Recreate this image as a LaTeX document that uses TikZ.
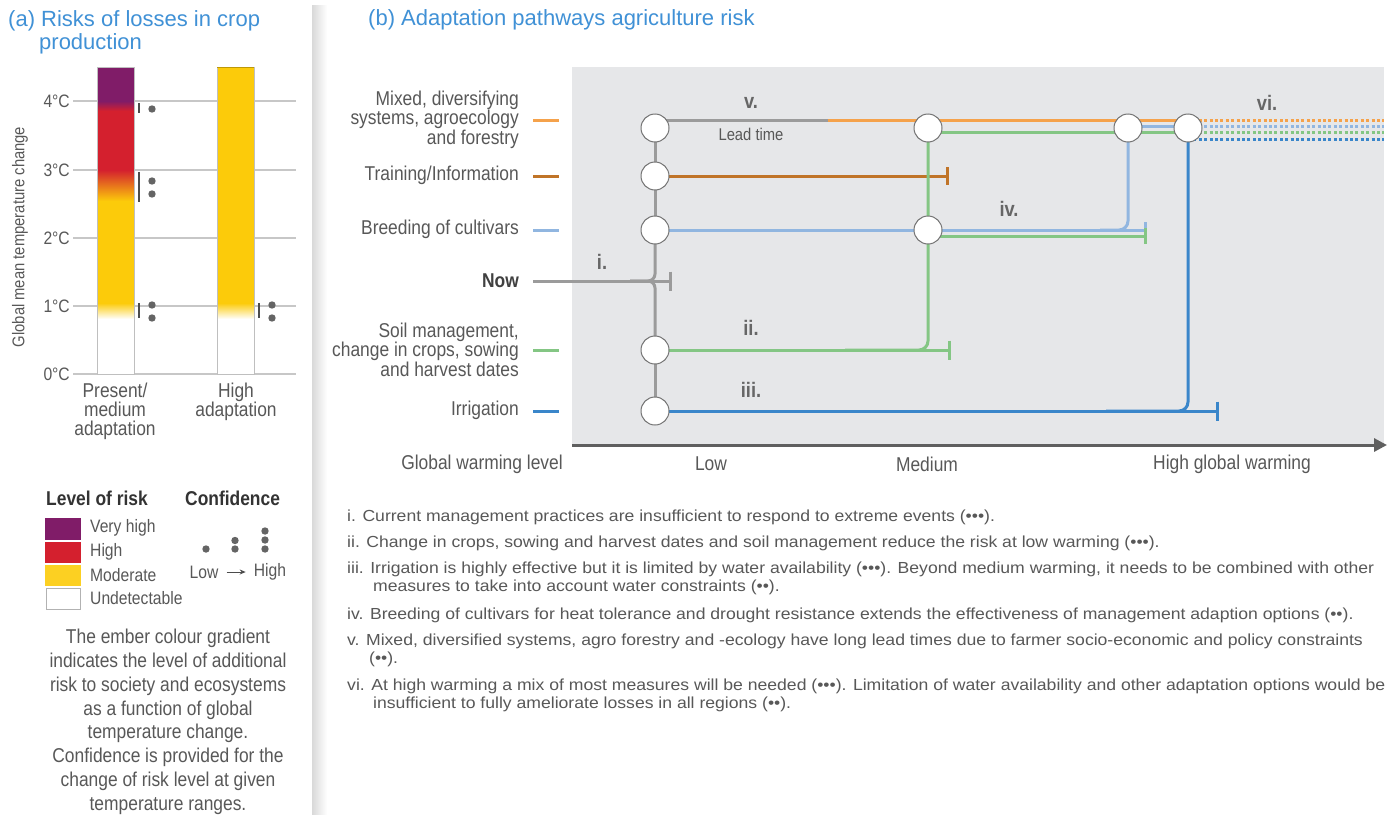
\documentclass[tikz,border=0pt]{standalone}
\usepackage{fontspec}
\setmainfont{Liberation Sans}
\newfontfamily\nrw[FakeStretch=0.87]{Liberation Sans}
\newfontfamily\notefont[FakeStretch=1.1]{Liberation Sans}
\usepackage{tikz}
\usetikzlibrary{arrows.meta, positioning, calc}
\definecolor{ttlblue}{RGB}{64,145,214}
\definecolor{txtgray}{RGB}{88,88,88}
\definecolor{panelgray}{RGB}{230,231,233}
\definecolor{spinegray}{RGB}{155,155,155}
\definecolor{axgray}{RGB}{95,95,95}
\definecolor{cOrange}{RGB}{245,162,75}
\definecolor{cBrown}{RGB}{192,116,40}
\definecolor{cLblue}{RGB}{145,182,224}
\definecolor{cGreen}{RGB}{132,198,132}
\definecolor{cBlue}{RGB}{58,134,202}
\definecolor{emPurple}{RGB}{128,28,104}
\definecolor{emRed}{RGB}{212,32,46}
\definecolor{emOrange}{RGB}{240,120,30}
\definecolor{emYellow}{RGB}{252,203,10}
\definecolor{dotgray}{RGB}{100,100,100}
\tikzstyle{ttl} = [anchor=west, text=ttlblue, font=\fontsize{22}{24}\selectfont]
\tikzstyle{rowlab} = [anchor=east, align=right, text=txtgray, font=\nrw\fontsize{20}{18.3}\selectfont]
\tikzstyle{templab} = [anchor=east, text=txtgray, font=\nrw\fontsize{18}{18}\selectfont]
\tikzstyle{barlab} = [align=center, text=txtgray, font=\nrw\fontsize{20}{19}\selectfont]
\tikzstyle{leghead} = [anchor=west, text=black!80, font=\nrw\bfseries\fontsize{20}{20}\selectfont]
\tikzstyle{legitem} = [anchor=west, text=txtgray, font=\nrw\fontsize{18}{18}\selectfont]
\tikzstyle{legtext} = [anchor=north, align=center, text=txtgray, font=\nrw\fontsize{20}{23.8}\selectfont]
\tikzstyle{axlab} = [text=txtgray, font=\nrw\fontsize{20}{20}\selectfont]
\tikzstyle{vlab} = [text=black!60, font=\nrw\bfseries\fontsize{21}{21}\selectfont]
\tikzstyle{notetxt} = [anchor=north west, align=left, text=txtgray, font=\notefont\fontsize{16}{18}\selectfont]
\tikzstyle{opt} = [circle, draw=black!55, fill=white, line width=1pt, minimum size=28pt, inner sep=0pt]
\tikzstyle{lnk} = [line width=3pt]
\tikzstyle{fut} = [line width=3pt, dash pattern=on 3pt off 2.4pt]
\tikzstyle{stopper} = [-{Bar[width=19pt]}]
\tikzstyle{gridln} = [black!22, line width=1.5pt]
\tikzstyle{barln} = [black!25, line width=1pt]
\tikzstyle{conftick} = [black!70, line width=2pt]
\tikzstyle{axln} = [axgray, line width=3pt, -{Triangle[length=13pt, width=13pt]}]

\begin{document}
\begin{tikzpicture}[x=1pt, y=-1pt, every node/.style={inner sep=0pt}]
  \useasboundingbox (0,0) rectangle (1389,814);
  \fill[white] (0,0) rectangle (1389,814);
  % ---------- panel separator ----------
  \shade[left color=black!15, right color=white] (312,5) rectangle (327,814);

  % ---------- (a) ember diagram ----------
  \node[ttl] (ttla)  at (8,21)  {(a) Risks of losses in crop};
  \node[ttl] (ttla2) at (39,44) {production};
  \foreach \yy/\lab in {374/0, 306/1, 238/2, 170/3, 101/4} {
    \draw[gridln] (73,\yy) -- (296,\yy);
    \node[templab] (t\lab) at (70,\yy) {\lab°C};
  }
  \node[rotate=90, text=txtgray, font=\nrw\fontsize{17}{17}\selectfont] (ylab) at (20,237) {Global mean temperature change};
  % present / medium adaptation
  \fill[emPurple] (97,67) rectangle (134,101);
  \shade[top color=emPurple, bottom color=emRed] (97,101) rectangle (134,111);
  \fill[emRed] (97,111) rectangle (134,170);
  \shade[top color=emRed, middle color=emOrange, bottom color=emYellow] (97,170) rectangle (134,201);
  \fill[emYellow] (97,201) rectangle (134,303);
  \shade[top color=emYellow, bottom color=white] (97,303) rectangle (134,319);
  \fill[white] (97,319) rectangle (134,374);
  \draw[barln] (97,67) rectangle (134,374);
  % high adaptation
  \fill[emYellow] (217,67) rectangle (254,303);
  \shade[top color=emYellow, bottom color=white] (217,303) rectangle (254,319);
  \fill[white] (217,319) rectangle (254,374);
  \draw[barln] (217,67) rectangle (254,374);
  \draw[emYellow!75!black, line width=1pt] (217,67) -- (254,67);
  % confidence marks
  \draw[conftick] (139,103) -- (139,113);
  \draw[conftick] (139,172) -- (139,202);
  \draw[conftick] (139,303) -- (139,318);
  \draw[conftick] (259,303) -- (259,318);
  \foreach \xx/\yy in {152/109, 152/181, 152/194, 152/305, 152/318, 272/305, 272/318}
    \fill[dotgray] (\xx,\yy) circle (3.7pt);
  \node[barlab] (blab1) at (115,411)  {Present/\\medium\\adaptation};
  \node[barlab] (blab2) at (236,401.5) {High\\adaptation};

  % ---------- legend ----------
  \node[leghead] (lvl)  at (46,498)  {Level of risk};
  \node[leghead] (conf) at (185,498) {Confidence};
  \fill[emPurple] (45,518) rectangle (81,540);
  \fill[emRed]    (45,542) rectangle (81,563);
  \fill[emYellow!90!white] (45,565) rectangle (81,586);
  \draw[black!30, line width=1pt] (46,588.5) rectangle (80.5,609);
  \node[legitem] (lvh) at (90,528) {Very high};
  \node[legitem] (lhi) at (90,552) {High};
  \node[legitem] (lmo) at (90,575) {Moderate};
  \node[legitem] (lun) at (90,598) {Undetectable};
  \foreach \xx/\yy in {206/549, 235/540.5, 235/549, 265/531, 265/540, 265/549}
    \fill[dotgray] (\xx,\yy) circle (3.7pt);
  \node[legitem, anchor=center] (clow)  at (204,572) {Low};
  \node[legitem, anchor=center] (chigh) at (270,572) {High};
  \draw[black!70, line width=1pt, -{Stealth[length=6pt, width=5pt]}] (clow.east) ++(8pt,0) coordinate (carr) -- ([xshift=-8pt]chigh.west);
  \node[legtext] (ember) at (168,629) {The ember colour gradient\\indicates the level of additional\\risk to society and ecosystems\\as a function of global\\temperature change.\\Confidence is provided for the\\change of risk level at given\\temperature ranges.};

  % ---------- (b) pathways panel ----------
  \node[ttl] (ttlb) at (368,20) {(b) Adaptation pathways agriculture risk};
  \fill[panelgray] (572,67) rectangle (1384,445);
  % row labels with colour keys
  \node[rowlab] (rmix)  at (519,119.5) {Mixed, diversifying\\systems, agroecology\\and forestry};
  \node[rowlab] (rtrn)  at (519,175)   {Training/Information};
  \node[rowlab] (rbrd)  at (519,229)   {Breeding of cultivars};
  \node[rowlab, font=\nrw\bfseries\fontsize{20}{20}\selectfont, text=black!75] (rnow) at (519,281) {Now};
  \node[rowlab] (rsoil) at (519,349.5) {Soil management,\\change in crops, sowing\\and harvest dates};
  \node[rowlab] (rirr)  at (519,410)   {Irrigation};
  \draw[lnk, cOrange] (533,120) -- (559,120);
  \draw[lnk, cBrown]  (533,176) -- (559,176);
  \draw[lnk, cLblue]  (533,230) -- (559,230);
  \draw[lnk, cGreen]  (533,350) -- (559,350);
  \draw[lnk, cBlue]   (533,411) -- (559,411);
  % decision points
  \coordinate (p-mix1) at (655,128);
  \coordinate (p-mix2) at (928,128);
  \coordinate (p-mix3) at (1128,128);
  \coordinate (p-mix4) at (1188,128);
  \coordinate (p-trn)  at (655,176);
  \coordinate (p-brd1) at (655,230);
  \coordinate (p-brd2) at (928,230);
  \coordinate (p-soil) at (655,350);
  \coordinate (p-irr)  at (655,411);
  % free ends
  \coordinate (p-lead)    at (828,120);
  \coordinate (p-end)     at (1384,128);
  \coordinate (p-nowleg)  at (533,281);
  \coordinate (p-nowj)    at (630,281);
  \coordinate (p-nowend)  at (672,281);
  \coordinate (p-trnend)  at (949,176);
  \coordinate (p-brdend)  at (1147,230);
  \coordinate (p-soilend) at (951,350);
  \coordinate (p-irrend)  at (1219,411);
  \coordinate (p-iij)  at (845,350);
  \coordinate (p-iiij) at (1106,411);
  \coordinate (p-ivj)  at (1100,230);
  % ---------- pathways ----------
  \draw[lnk, spinegray] (p-mix1) -- (p-brd1);
  \draw[lnk, spinegray, rounded corners=7pt] (p-brd1) |- (p-nowj);
  \draw[lnk, spinegray, rounded corners=7pt] (p-soil) |- (p-nowj);
  \draw[lnk, spinegray] (p-soil) -- (p-irr);
  \draw[lnk, spinegray, stopper] (p-nowleg) -- (p-nowend);
  \draw[lnk, spinegray] ([yshift=8pt]p-mix1) -- (p-lead);
  \draw[lnk, cOrange] (p-lead) -- ([yshift=8pt]p-mix4);
  \draw[lnk, cBrown, -{Bar[width=18pt]}] (p-trn) -- (p-trnend);
  \draw[lnk, cLblue] (p-brd1) -- (p-brd2);
  \draw[lnk, cLblue, -{Bar[width=16pt]}] (p-brd2) -- (p-brdend);
  \draw[lnk, cGreen, -{Bar[width=16pt]}] ([yshift=-6pt]p-brd2) -- ([yshift=-6pt]p-brdend);
  \draw[lnk, cGreen, stopper] (p-soil) -- (p-soilend);
  \draw[lnk, cBlue, stopper] (p-irr) -- (p-irrend);
  \draw[lnk, cGreen, rounded corners=9pt] (p-iij) -| (p-mix2);
  \draw[lnk, cLblue, rounded corners=9pt] (p-ivj) -| (p-mix3);
  \draw[lnk, cBlue, rounded corners=9pt] (p-iiij) -| (p-mix4);
  \draw[lnk, cGreen] ([yshift=-4pt]p-mix2) -- ([yshift=-4pt]p-mix4);
  \draw[lnk, cLblue] ([yshift=2pt]p-mix3) -- ([yshift=2pt]p-mix4);
  % high warming: mix of measures
  \draw[fut, cOrange] ([yshift=8pt]p-mix4) -- ([yshift=8pt]p-end);
  \draw[fut, cLblue]  ([yshift=2pt]p-mix4) -- ([yshift=2pt]p-end);
  \draw[fut, cGreen]  ([yshift=-4pt]p-mix4) -- ([yshift=-4pt]p-end);
  \draw[fut, cBlue]   ([yshift=-11pt]p-mix4) -- ([yshift=-11pt]p-end);
  \foreach \pp in {mix1, mix2, mix3, mix4, trn, brd1, brd2, soil, irr}
    \node[opt] (\pp) at (p-\pp) {};
  % labels on the pathways
  \node[vlab] (li)   at (602,262)  {i.};
  \node[vlab] (lii)  at (751,328)  {ii.};
  \node[vlab] (liii) at (751,390)  {iii.};
  \node[vlab] (liv)  at (1009,209) {iv.};
  \node[vlab] (lv)   at (751,103)  {v.};
  \node[vlab] (lvi)  at (1267,103) {vi.};
  \node[text=txtgray, font=\nrw\fontsize{17}{17}\selectfont] (lead) at (751,134) {Lead time};
  % warming axis
  \coordinate (p-ax0) at (572,445);
  \coordinate (p-ax1) at (1387,445);
  \draw[axln] (p-ax0) -- (p-ax1);
  \node[axlab] (xgw)  at (482,464)  {Global warming level};
  \node[axlab] (xlow) at (711,464)  {Low};
  \node[axlab] (xmed) at (927,464)  {Medium};
  \node[axlab] (xhi)  at (1232,464) {High global warming};

  % ---------- notes ----------
  \node[notetxt] (n1) at (347,509.5) {i. Current management practices are insufficient to respond to extreme events (•••).};
  \node[notetxt] (n2) at (347,536) {ii. Change in crops, sowing and harvest dates and soil management reduce the risk at low warming (•••).};
  \node[notetxt] (n3) at (347,561.5) {iii. Irrigation is highly effective but it is limited by water availability (•••). Beyond medium warming, it needs to be combined with other\\\hspace*{26pt}measures to take into account water constraints (••).};
  \node[notetxt] (n4) at (347,607.5) {iv. Breeding of cultivars for heat tolerance and drought resistance extends the effectiveness of management adaption options (••).};
  \node[notetxt] (n5) at (347,633.5) {v. Mixed, diversified systems, agro forestry and -ecology have long lead times due to farmer socio-economic and policy constraints\\\hspace*{22pt}(••).};
  \node[notetxt] (n6) at (347,678.5) {vi. At high warming a mix of most measures will be needed (•••). Limitation of water availability and other adaptation options would be\\\hspace*{26pt}insufficient to fully ameliorate losses in all regions (••).};
\end{tikzpicture}
\end{document}
